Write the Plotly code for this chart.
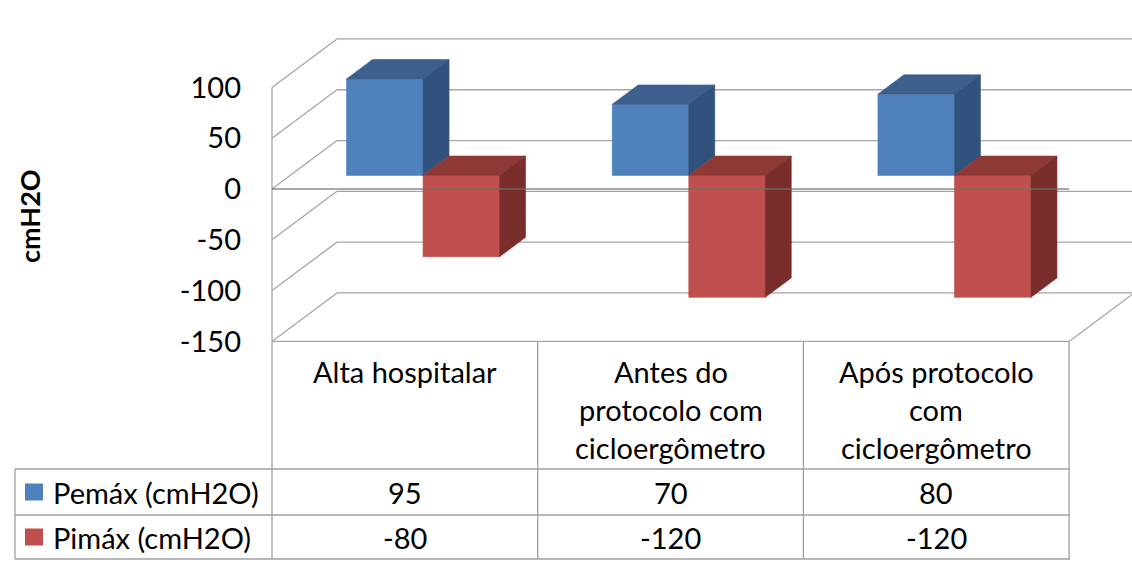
import plotly.graph_objects as go

# ---------------- data ----------------
categories = ["Alta hospitalar", "Antes do<br>protocolo com<br>cicloergômetro",
              "Após protocolo<br>com<br>cicloergômetro"]
series_names = ["Pemáx (cmH2O)", "Pimáx (cmH2O)"]
pemax = [95, 70, 80]
pimax = [-80, -120, -120]
y_ticks = [100, 50, 0, -50, -100, -150]
y_title = "cmH2O"

colors_front = ["#4F81BD", "#C0504D"]
colors_top = ["#3C5F8D", "#8E3936"]
colors_side = ["#31527C", "#7A2E2C"]

# --------------- geometry / layout ---------------
W, H = 1132, 569
L = 262
FONT = "Lato"
FS = 29
GRID = "#A6A6A6"

DX = 0.2446   # depth offset in category units (oblique projection)
DY = 47.7     # depth offset in value units
D0, D1 = 0.28, 0.68   # bar depth span
BW = 0.288            # bar width in category units

x_range = [-0.5 - 10 / 265.7, -0.5 - 10 / 265.7 + (W - L) / 265.7]
y_range = [-(H - 189) / 1.016, 189 / 1.016]
ymin, ymax = min(y_ticks), max(y_ticks)
ncat = len(categories)


def P(x, y, d):
    return x + d * DX, y + d * DY


def px_x(px):
    return (px - L) / (W - L)


def py_y(py):
    return 1 - py / H


fig = go.Figure()


def add_line(xs, ys, color=GRID, width=1.3):
    fig.add_trace(go.Scatter(x=xs, y=ys, mode="lines", line=dict(color=color, width=width),
                             hoverinfo="skip", showlegend=False))


# back wall gridlines
for t in y_ticks:
    x0, y0 = P(-0.5, t, 1)
    add_line([x0, x_range[1] + 0.1], [y0, y0])
# left wall diagonals
for t in y_ticks:
    x0, y0 = P(-0.5, t, 0)
    x1, y1 = P(-0.5, t, 1)
    add_line([x0, x1], [y0, y1])
# front vertical axis line
add_line([-0.5, -0.5], [ymin, ymax])
# floor front edge and right edge
add_line([-0.5, ncat - 0.5], [ymin, ymin])
xa, ya = P(ncat - 0.5, ymin, 0)
xb, yb = P(ncat - 0.5, ymin, 1)
add_line([xa, xb], [ya, yb])

# bars
for s, vals in enumerate([pemax, pimax]):
    fx, fy, tx, ty, sx, sy = [], [], [], [], [], []
    for i, v in enumerate(vals):
        xl = i - BW if s == 0 else i
        xr = xl + BW
        lo, hi = min(0, v), max(0, v)
        # front
        for (a, b) in [(xl, lo), (xr, lo), (xr, hi), (xl, hi), (xl, lo)]:
            px_, py_ = P(a, b, D0)
            fx.append(px_); fy.append(py_)
        fx.append(None); fy.append(None)
        # top
        for (a, d) in [(xl, D0), (xr, D0), (xr, D1), (xl, D1), (xl, D0)]:
            px_, py_ = P(a, hi, d)
            tx.append(px_); ty.append(py_)
        tx.append(None); ty.append(None)
        # side
        for (b, d) in [(lo, D0), (lo, D1), (hi, D1), (hi, D0), (lo, D0)]:
            px_, py_ = P(xr, b, d)
            sx.append(px_); sy.append(py_)
        sx.append(None); sy.append(None)
    for xs, ys, c in [(fx, fy, colors_front[s]), (tx, ty, colors_top[s]), (sx, sy, colors_side[s])]:
        fig.add_trace(go.Scatter(x=xs, y=ys, mode="lines", fill="toself", fillcolor=c,
                                 line=dict(color=c, width=0.6), name=series_names[s],
                                 hoverinfo="skip", showlegend=False))

# front zero line (over bars)
add_line([-0.5, ncat - 0.5], [0, 0], color="rgba(110,110,110,0.8)", width=1.6)

# ---------------- data table ----------------
shapes = []
tcol = "#A0A0A0"
row_top, row1, row2, row_bot = 342, 469, 515, 559
left_px = 15
for yy in [row1, row2, row_bot]:
    shapes.append(dict(type="line", xref="paper", yref="paper", x0=px_x(left_px), x1=px_x(1070),
                       y0=py_y(yy), y1=py_y(yy), line=dict(color=tcol, width=1.3)))
shapes.append(dict(type="line", xref="paper", yref="paper", x0=px_x(left_px), x1=px_x(left_px),
                   y0=py_y(row1), y1=py_y(row_bot), line=dict(color=tcol, width=1.3)))
for i in range(ncat + 1):
    shapes.append(dict(type="line", xref="x", yref="paper", x0=i - 0.5, x1=i - 0.5,
                       y0=py_y(row_top), y1=py_y(row_bot), line=dict(color=tcol, width=1.3)))
# legend keys
for s, yy in enumerate([492, 537]):
    shapes.append(dict(type="rect", xref="paper", yref="paper", x0=px_x(25), x1=px_x(43),
                       y0=py_y(yy - 8.5), y1=py_y(yy + 8.5), fillcolor=colors_front[s],
                       line=dict(width=0)))

annotations = []
font = dict(family=FONT, size=FS, color="#000000")
for i, c in enumerate(categories):
    for k, line in enumerate(c.split("<br>")):
        annotations.append(dict(x=i, y=py_y(371 + 38 * k), xref="x", yref="paper", text=line,
                                showarrow=False, font=font, xanchor="center", yanchor="middle"))
for s, (vals, yy) in enumerate(zip([pemax, pimax], [492, 537])):
    annotations.append(dict(x=px_x(51), y=py_y(yy), xref="paper", yref="paper",
                            text=series_names[s], showarrow=False, font=font,
                            xanchor="left", yanchor="middle"))
    for i, v in enumerate(vals):
        annotations.append(dict(x=i, y=py_y(yy), xref="x", yref="paper", text=str(v),
                                showarrow=False, font=font, xanchor="center", yanchor="middle"))
# y-axis title
annotations.append(dict(x=px_x(30), y=py_y(216), xref="paper", yref="paper", text="<b>%s</b>" % y_title,
                        textangle=-90, showarrow=False, font=dict(family=FONT, size=FS - 2, color="#000"),
                        xanchor="center", yanchor="middle"))

fig.update_layout(
    width=W, height=H,
    margin=dict(l=L, r=0, t=0, b=0),
    paper_bgcolor="white", plot_bgcolor="white",
    showlegend=False,
    xaxis=dict(range=x_range, visible=False, fixedrange=True),
    yaxis=dict(range=y_range, tickvals=y_ticks, ticktext=[str(t) for t in y_ticks],
               showgrid=False, zeroline=False, showline=False, ticks="",
               ticklabelstandoff=20, tickfont=font, fixedrange=True),
    shapes=shapes, annotations=annotations,
)

fig.write_html("out.html")
